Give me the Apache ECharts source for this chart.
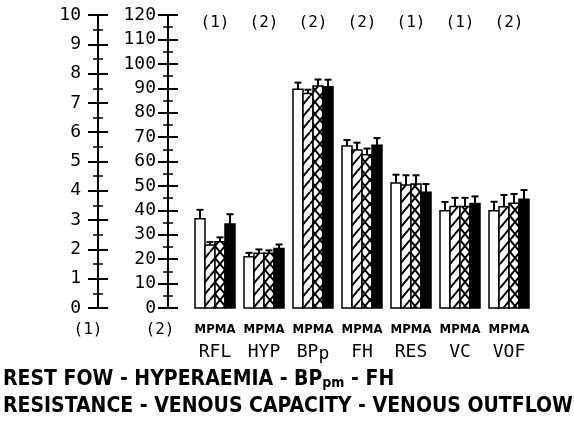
<!DOCTYPE html>
<html><head><meta charset="utf-8">
<script src="https://cdn.jsdelivr.net/npm/echarts@6/dist/echarts.min.js"></script>
<style>html,body{margin:0;padding:0;background:#fff}#c{width:574px;height:436px}</style>
</head><body><div id="c"></div>
<script>
// ---- data ----
const categories = ['RFL', 'HYP', 'BPp', 'FH', 'RES', 'VC', 'VOF'];
const scaleOf    = [1, 2, 2, 2, 1, 1, 2];
const scaleTags  = ['(1)', '(2)', '(2)', '(2)', '(1)', '(1)', '(2)'];
const groupLetters = 'MPMA';
const axis1 = { min: 0, max: 10, interval: 1, name: '(1)' };
const axis2 = { min: 0, max: 120, interval: 10, name: '(2)' };
const valM  = [3.05, 21.0, 89.6, 66.3, 4.27, 3.32, 39.8];
const valP  = [2.15, 22.4, 87.9, 64.7, 4.20, 3.46, 41.5];
const valM2 = [2.26, 22.4, 90.9, 62.8, 4.23, 3.46, 42.9];
const valA  = [2.87, 24.4, 90.6, 66.7, 3.95, 3.57, 44.5];
const errM  = [0.30, 1.6, 2.7, 2.5, 0.28, 0.30, 3.7];
const errP  = [0.10, 1.6, 1.5, 3.0, 0.33, 0.30, 4.8];
const errM2 = [0.15, 1.2, 2.7, 2.5, 0.30, 0.30, 3.8];
const errA  = [0.33, 1.6, 2.9, 2.9, 0.28, 0.24, 3.8];
const footLine1 = ['REST FOW - HYPERAEMIA - BP', 'pm', ' - FH'];
const footLine2 = 'RESISTANCE - VENOUS CAPACITY - VENOUS OUTFLOW';

// ---- patterns ----
function hatch(cross) {
  const c = document.createElement('canvas');
  c.width = 10; c.height = 12;
  const g = c.getContext('2d');
  g.fillStyle = '#fff'; g.fillRect(0, 0, 10, 12);
  g.strokeStyle = '#000'; g.lineWidth = 2;
  for (let k = -1; k <= 1; k++) {
    g.beginPath(); g.moveTo(k * 10, 12); g.lineTo(k * 10 + 10, 0); g.stroke();
    if (cross) { g.beginPath(); g.moveTo(k * 10, 0); g.lineTo(k * 10 + 10, 12); g.stroke(); }
  }
  return c;
}
const patP = { image: hatch(false), repeat: 'repeat' };
const patX = { image: hatch(true), repeat: 'repeat' };
const fills = ['#fff', patP, patX, '#000'];

function renderGroup(params, api) {
  const ci = api.value(0);
  const base = api.coord([ci, 0]);
  const bw = 10;
  const rects = [], errs = [];
  for (let i = 0; i < 4; i++) {
    const v = api.value(1 + i), e = api.value(5 + i);
    const x0 = base[0] - 2 * bw + i * bw;
    const top = api.coord([ci, v])[1];
    const et = api.coord([ci, v + e])[1];
    rects.push({ type: 'rect', shape: { x: x0, y: top, width: bw, height: base[1] - top },
      style: { fill: fills[i], stroke: '#000', lineWidth: 1.5 } });
    const cx = x0 + bw / 2;
    errs.push({ type: 'line', shape: { x1: cx, y1: top, x2: cx, y2: et }, style: { stroke: '#000', lineWidth: 2 } });
    errs.push({ type: 'line', shape: { x1: cx - 3.5, y1: et, x2: cx + 3.5, y2: et }, style: { stroke: '#000', lineWidth: 2 } });
  }
  return { type: 'group', children: rects.concat(errs) };
}
function seriesData(s) {
  const out = [];
  categories.forEach((c, i) => {
    if (scaleOf[i] === s) out.push([i, valM[i], valP[i], valM2[i], valA[i], errM[i], errP[i], errM2[i], errA[i]]);
  });
  return out;
}

const monoFont = 'DejaVu Sans Mono';
const boldFont = 'DejaVu Sans Condensed';
function yAx(a, offset, inside, margin, namePad) {
  return {
    type: 'value', min: a.min, max: a.max, interval: a.interval, position: 'left', offset: offset,
    name: inside ? '' : a.name, nameLocation: 'start', nameGap: 14,
    nameTextStyle: { color: '#000', fontFamily: monoFont, fontSize: 16, padding: [0, namePad, 0, 0] },
    axisLine: { show: !inside, lineStyle: { color: '#000', width: 2 } },
    axisTick: { show: true, inside: inside, length: 10, lineStyle: { color: '#000', width: 2 } },
    minorTick: { show: true, splitNumber: 2, length: 5, lineStyle: { color: '#000', width: 1.5 } },
    splitLine: { show: false },
    axisLabel: { show: !inside, margin: margin, color: '#000', fontFamily: monoFont, fontSize: 18 }
  };
}

const chart = echarts.init(document.getElementById('c'), null, { renderer: 'canvas' });
chart.setOption({
  animation: false,
  backgroundColor: '#fff',
  grid: { left: 190.5, right: 40.5, top: 15, bottom: 128 },
  xAxis: [{
    type: 'category', data: categories, position: 'bottom',
    axisLine: { show: false }, axisTick: { show: false },
    axisLabel: {
      margin: 15, interval: 0,
      formatter: v => v === 'BPp' ? '{a|' + groupLetters + '}\n{b|BP}{s|p}' : '{a|' + groupLetters + '}\n{b|' + v + '}',
      rich: {
        a: { fontFamily: boldFont, fontWeight: 'bold', fontSize: 13, lineHeight: 14, color: '#000' },
        b: { fontFamily: monoFont, fontSize: 18, lineHeight: 30, color: '#000' },
        s: { fontFamily: monoFont, fontSize: 18, lineHeight: 30, color: '#000', padding: [4, 0, 0, 0] }
      }
    }
  }, {
    type: 'category', data: scaleTags, position: 'top',
    axisLine: { show: false }, axisTick: { show: false },
    axisLabel: { inside: true, margin: 0, interval: 0, color: '#000', fontFamily: monoFont, fontSize: 16 }
  }],
  yAxis: [
    yAx(axis1, 92.5, false, 17, 20),
    yAx(axis1, 92.5, true, 17, 0),
    yAx(axis2, 22.5, false, 12, 16),
    yAx(axis2, 22.5, true, 12, 0)
  ],
  series: [
    { type: 'custom', xAxisIndex: 0, yAxisIndex: 0, renderItem: renderGroup, clip: false,
      encode: { x: 0, y: [1, 2, 3, 4] }, data: seriesData(1) },
    { type: 'custom', xAxisIndex: 0, yAxisIndex: 2, renderItem: renderGroup, clip: false,
      encode: { x: 0, y: [1, 2, 3, 4] }, data: seriesData(2) }
  ],
  graphic: [
    { type: 'text', left: 3, top: 369, style: {
        text: '{n|' + footLine1[0] + '}{s|' + footLine1[1] + '}{n|' + footLine1[2] + '}',
        rich: {
          n: { fontFamily: boldFont, fontWeight: 'bold', fontSize: 21, fill: '#000' },
          s: { fontFamily: boldFont, fontWeight: 'bold', fontSize: 14, fill: '#000', padding: [8, 0, 0, 0] }
        } } },
    { type: 'text', left: 3, top: 396, style: {
        text: footLine2, fontFamily: boldFont, fontWeight: 'bold', fontSize: 21, fill: '#000' } }
  ]
});
</script></body></html>
